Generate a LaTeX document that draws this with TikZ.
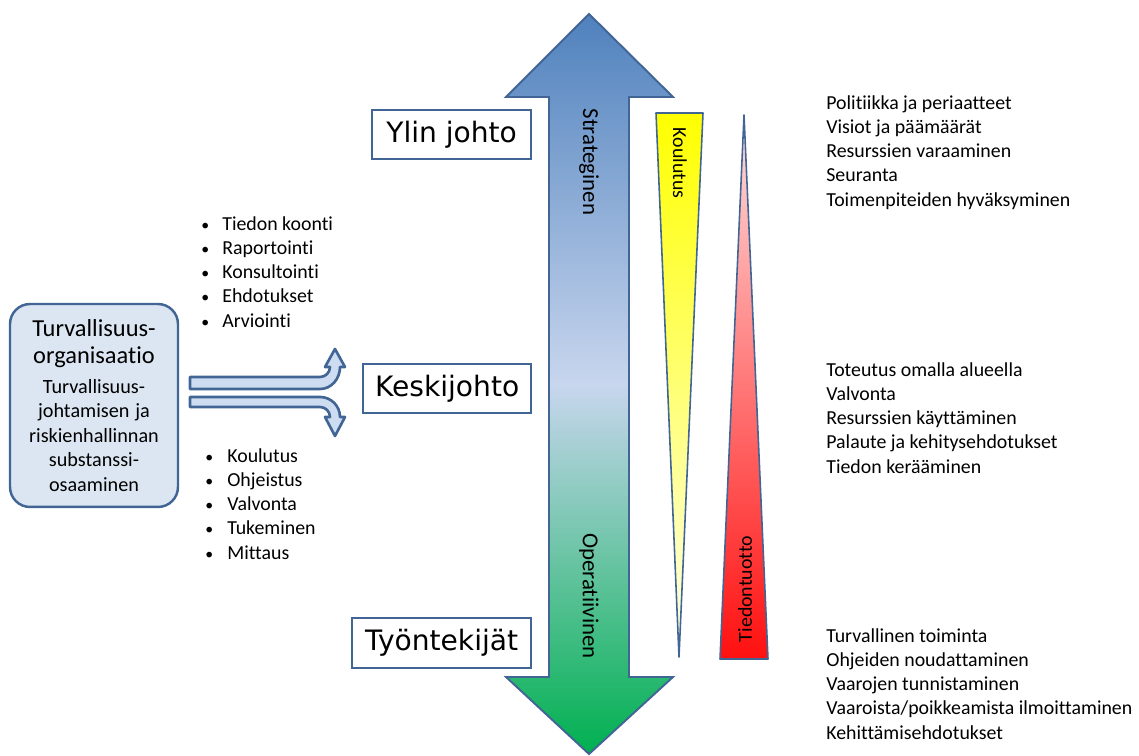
\documentclass[tikz,border=0pt]{standalone}
\usepackage{fontspec}
\setmainfont{Carlito}[Ligatures={NoCommon}]
\newfontfamily\levelfont{DejaVu Sans}
\usepackage{xcolor}
\usepackage{tikz}
\usetikzlibrary{positioning}

\definecolor{edgeblue}{RGB}{65,101,148}
\definecolor{topblue}{RGB}{79,129,189}
\definecolor{midblue}{RGB}{200,214,238}
\definecolor{botgreen}{RGB}{0,176,80}
\definecolor{orgfill}{RGB}{220,230,242}
\definecolor{bendfill}{RGB}{205,220,240}
\definecolor{paleyellow}{RGB}{255,255,232}
\definecolor{palered}{RGB}{255,222,222}
\definecolor{deepred}{RGB}{255,16,16}

\begin{document}
\begin{tikzpicture}[x=0.02cm, y=-0.02cm,
        levelbox/.style={rectangle, draw=edgeblue, line width=1pt, minimum height=0.98cm, inner sep=0pt, font=\levelfont\fontsize{16}{19}\selectfont},
        orgbox/.style={rectangle, draw=edgeblue, fill=orgfill, line width=1.4pt, rounded corners=0.4cm, minimum width=3.36cm, minimum height=4.06cm, text width=3.2cm, align=center, inner sep=0pt},
        items/.style={align=left, inner sep=0pt, font=\fontsize{11.3}{13.8}\selectfont},
        vlabel/.style={inner sep=0pt, font=\fontsize{13}{15}\selectfont},
        tlabel/.style={inner sep=0pt, font=\fontsize{11.3}{13}\selectfont},
        bendarrow/.style={draw=edgeblue, fill=bendfill, line width=1.5pt, line join=round},
        wedge/.style={draw=edgeblue, line width=0.9pt, line join=round}
    ]
        \useasboundingbox (0,0) rectangle (1139,756);

        % two-headed level arrow
        \path[top color=topblue, bottom color=botgreen, middle color=midblue, draw=edgeblue, line width=1.1pt, line join=miter]
            (589,14) -- (673,97) -- (629,97) -- (629,677) -- (673,677) -- (589,754)
            -- (506,677) -- (549,677) -- (549,97) -- (506,97) -- cycle;
        \node[vlabel, rotate=-90] (strat) at (589,162) {Strateginen};
        \node[vlabel, rotate=-90] (oper) at (589,596) {Operatiivinen};

        % wedges
        \path[wedge, top color=yellow, bottom color=paleyellow] (656,113) -- (703,113) -- (679,657) -- cycle;
        \path[wedge, top color=palered, bottom color=deepred] (744,115) -- (768,659) -- (720,659) -- cycle;
        \node[tlabel, rotate=-90] (koul) at (680,163) {Koulutus};
        \node[tlabel, rotate=90] (tied) at (745,589) {Tiedontuotto};

        % levels
        \node[levelbox, minimum width=3.18cm, anchor=east] (ylin) at (532,134.5) {Ylin johto};
        \node[levelbox, minimum width=3.36cm, anchor=east] (keski) at (532,388.5) {Keskijohto};
        \node[levelbox, minimum width=3.58cm, minimum height=1cm, anchor=east] (tyon) at (532,643) {Työntekijät};

        % tasks of each level
        \node[items, anchor=north west] (ylintasks) at (826,95) {Politiikka ja periaatteet\\Visiot ja päämäärät\\Resurssien varaaminen\\Seuranta\\Toimenpiteiden hyväksyminen};
        \node[items, anchor=north west] (keskitasks) at (826,362) {Toteutus omalla alueella\\Valvonta\\Resurssien käyttäminen\\Palaute ja kehitysehdotukset\\Tiedon kerääminen};
        \node[items, anchor=north west] (tyontasks) at (826,628) {Turvallinen toiminta\\Ohjeiden noudattaminen\\Vaarojen tunnistaminen\\Vaaroista/poikkeamista ilmoittaminen\\Kehittämisehdotukset};

        % safety organisation
        \node[orgbox] (org) at (94,405.5) {{\fontsize{13.9}{15.5}\selectfont Turvallisuus-\\organisaatio\par}\vspace{3pt}{\fontsize{11.5}{13.9}\selectfont Turvallisuus-\\johtamisen ja\\riskienhallinnan\\substanssi-\\osaaminen\par}};

        % flows up and down
        \draw[bendarrow] (190,377) -- (320,377) to[out=0,in=-90] (330,367) -- (325,367) -- (335,349)
            -- (345,367) -- (340,367) to[out=-90,in=0] (320,389) -- (190,389) -- cycle;
        \draw[bendarrow] (190,407) -- (320,407) to[out=0,in=90] (330,417) -- (325,417) -- (335,436)
            -- (345,417) -- (340,417) to[out=90,in=0] (320,397) -- (190,397) -- cycle;

        \node[items, anchor=north west] (upitems) at (201,216) {\makebox[0.42cm][l]{\small\textbullet}Tiedon koonti\\\makebox[0.42cm][l]{\small\textbullet}Raportointi\\\makebox[0.42cm][l]{\small\textbullet}Konsultointi\\\makebox[0.42cm][l]{\small\textbullet}Ehdotukset\\\makebox[0.42cm][l]{\small\textbullet}Arviointi};
        \node[items, anchor=north west] (downitems) at (205,448) {\makebox[0.44cm][l]{\small\textbullet}Koulutus\\\makebox[0.44cm][l]{\small\textbullet}Ohjeistus\\\makebox[0.44cm][l]{\small\textbullet}Valvonta\\\makebox[0.44cm][l]{\small\textbullet}Tukeminen\\\makebox[0.44cm][l]{\small\textbullet}Mittaus};
    \end{tikzpicture}
\end{document}
